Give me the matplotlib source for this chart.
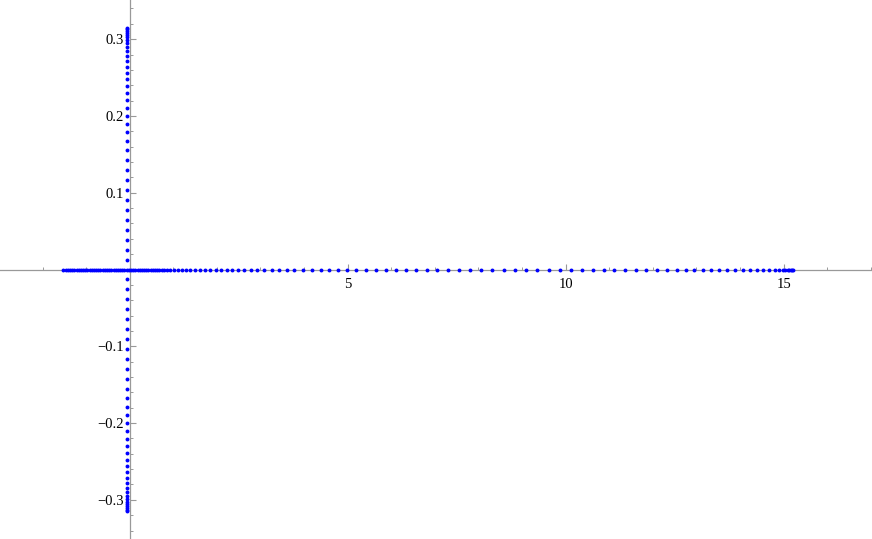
import matplotlib
matplotlib.use("Agg")
import matplotlib.pyplot as plt
from matplotlib.ticker import FixedLocator, FuncFormatter

# points lying on the real axis (dense cluster, then spreading out)
real_dense = [-1.52, -1.47, -1.42, -1.37, -1.32, -1.27, -1.22, -1.17, -1.12, -1.07,
              -1.02, -0.97, -0.92, -0.87, -0.82, -0.77, -0.72, -0.67, -0.62, -0.57,
              -0.52, -0.47, -0.42, -0.37, -0.32, -0.27, -0.22, -0.17, -0.12, -0.07,
              -0.02, 0.03, 0.08, 0.13, 0.18, 0.23, 0.28, 0.33, 0.38, 0.43,
              0.48, 0.53, 0.58, 0.63, 0.68]
real_sparse = [0.734, 0.794, 0.856, 0.931, 1.009, 1.101, 1.193, 1.284, 1.390, 1.498,
               1.606, 1.727, 1.849, 1.972, 2.094, 2.225, 2.353, 2.491, 2.628, 2.775,
               2.927, 3.080, 3.257, 3.424, 3.601, 3.775, 3.968, 4.174, 4.381, 4.571,
               4.771, 4.977, 5.190, 5.413, 5.642, 5.872, 6.101, 6.330, 6.560, 6.812,
               7.055, 7.294, 7.560, 7.812, 8.057, 8.317, 8.578, 8.837, 9.089, 9.349,
               9.610, 9.862, 10.122, 10.374, 10.626, 10.872, 11.115, 11.360, 11.606, 11.849,
               12.094, 12.323, 12.564, 12.759, 12.943, 13.142, 13.339, 13.523, 13.706, 13.883,
               14.060, 14.227, 14.381, 14.532, 14.670, 14.794, 14.899, 14.977, 15.041, 15.092,
               15.133, 15.167, 15.195, 15.213]

# points close to the imaginary axis
imag_re = -0.06
imag_up = [0.0124, 0.0254, 0.0384, 0.0514, 0.0645, 0.0775, 0.0905, 0.1035, 0.1165, 0.1296,
           0.1426, 0.1556, 0.1673, 0.1790, 0.1895, 0.1999, 0.2103, 0.2207, 0.2298, 0.2389,
           0.2480, 0.2559, 0.2637, 0.2715, 0.2780, 0.2845, 0.2897, 0.2949, 0.2988, 0.3027,
           0.3053, 0.3079, 0.3105, 0.3132, 0.3145]
imag_down = [-0.0124, -0.0254, -0.0384, -0.0514, -0.0645, -0.0775, -0.0905, -0.1035, -0.1165, -0.1296,
             -0.1426, -0.1556, -0.1673, -0.1790, -0.1895, -0.1999, -0.2103, -0.2207, -0.2298, -0.2389,
             -0.2480, -0.2559, -0.2637, -0.2715, -0.2780, -0.2845, -0.2897, -0.2949, -0.2988, -0.3027,
             -0.3053, -0.3079, -0.3105, -0.3132, -0.3145]

x_major = [5, 10, 15]
x_minor = [-2, -1, 1, 2, 3, 4, 6, 7, 8, 9, 11, 12, 13, 14, 16, 17]
y_major = [-0.3, -0.2, -0.1, 0.1, 0.2, 0.3]
y_minor = [-0.34, -0.32, -0.28, -0.26, -0.24, -0.22, -0.18, -0.16, -0.14, -0.12,
           -0.08, -0.06, -0.04, -0.02, 0.02, 0.04, 0.06, 0.08, 0.12, 0.14,
           0.16, 0.18, 0.22, 0.24, 0.26, 0.28, 0.32, 0.34]

plt.rcParams['font.family'] = ['Liberation Serif', 'DejaVu Serif']

fig = plt.figure(figsize=(8.72, 5.39), dpi=100)
ax = fig.add_axes([0, 0, 1, 1])
ax.set_xlim(-2.975, 17.026)
ax.set_ylim(-0.351, 0.351)

pt = dict(linestyle='none', marker='o', ms=2.8, mew=0, color='#0000ff', zorder=3)
ax.plot(real_dense, [0] * len(real_dense), **pt)
ax.plot(real_sparse, [0] * len(real_sparse), **pt)
ax.plot([imag_re] * len(imag_up), imag_up, **pt)
ax.plot([imag_re] * len(imag_down), imag_down, **pt)

# Mathematica-like axes through the origin
axcol = '#999999'
for s in ['top', 'right']:
    ax.spines[s].set_visible(False)
for s in ['left', 'bottom']:
    ax.spines[s].set_position('zero')
    ax.spines[s].set_color(axcol)
    ax.spines[s].set_linewidth(0.9)
    ax.spines[s].set_zorder(1)

ax.xaxis.set_major_locator(FixedLocator(x_major))
ax.xaxis.set_minor_locator(FixedLocator(x_minor))
ax.yaxis.set_major_locator(FixedLocator(y_major))
ax.yaxis.set_minor_locator(FixedLocator(y_minor))
ax.xaxis.set_major_formatter(FuncFormatter(lambda v, p: '%g' % v))
ax.yaxis.set_major_formatter(FuncFormatter(lambda v, p: ('%.1f' % v).replace('-', '\u2212')))

ax.tick_params(which='major', direction='in', length=4.5, width=0.8, color=axcol,
               labelsize=10.5, labelcolor='black', pad=4)
ax.tick_params(axis='x', which='major', pad=6)
ax.tick_params(which='minor', direction='in', length=2.5, width=0.7, color=axcol)

fig.savefig('out.png', dpi=100)
